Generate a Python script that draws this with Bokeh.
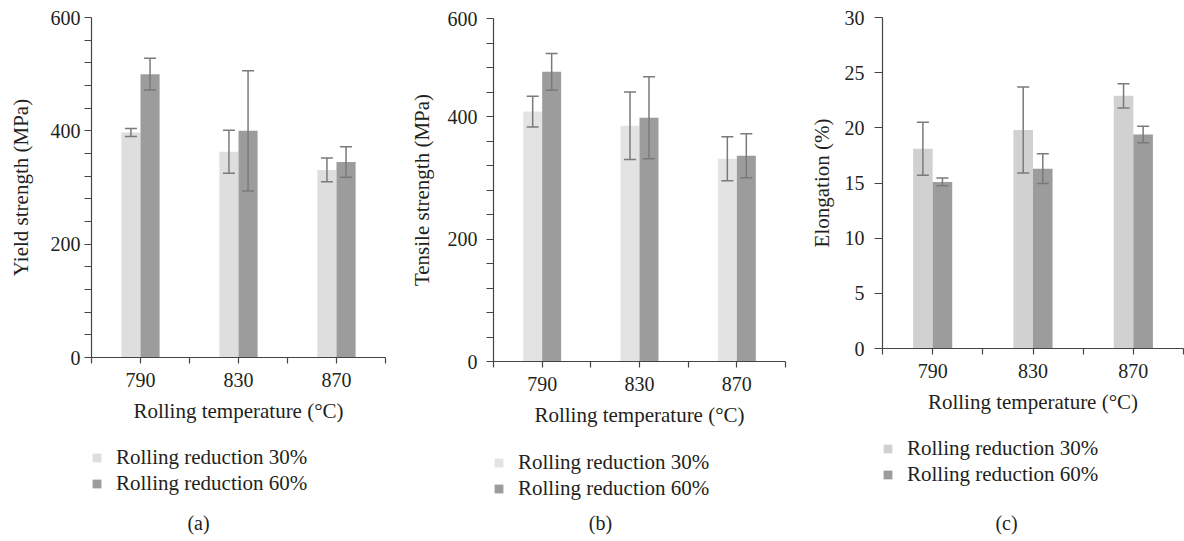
from bokeh.plotting import figure
from bokeh.layouts import row, column
from bokeh.models import (ColumnDataSource, Range1d, FixedTicker, Whisker,
                          TeeHead, Legend, LegendItem, Label, Spacer)
from bokeh.embed import file_html
from bokeh.resources import INLINE

# ---------------- data ----------------
categories = ["790", "830", "870"]
series_names = ["Rolling reduction 30%", "Rolling reduction 60%"]
x_title = "Rolling temperature (°C)"

yield_30 = [397, 363, 331]
yield_30_err = [7, 38, 21]
yield_60 = [500, 400, 345]
yield_60_err = [28, 106, 27]

tensile_30 = [408, 385, 331]
tensile_30_err = [25, 55, 36]
tensile_60 = [473, 398, 336]
tensile_60_err = [30, 67, 36]

elong_30 = [18.1, 19.8, 22.9]
elong_30_err = [2.4, 3.9, 1.1]
elong_60 = [15.1, 16.3, 19.4]
elong_60_err = [0.35, 1.35, 0.75]

yield_ticks = [0, 200, 400, 600]
yield_minor = [40, 80, 120, 160, 240, 280, 320, 360, 440, 480, 520, 560]
tensile_ticks = [0, 200, 400, 560]          # top tick is printed "600" in the source
tensile_tick_text = {560: "600"}
tensile_minor = [40, 80, 120, 160, 240, 280, 320, 360, 440, 480, 520]
elong_ticks = [0, 5, 10, 15, 20, 25, 30]

captions = ["(a)", "(b)", "(c)"]

FONT = "Liberation Serif"
TXT = "#231f20"
AX = "#444444"
DARK = "#9c9c9c"
ERR = "#7a7a7a"
NAN = float("nan")

TOP = 17
BOTTOM = 75
TOTAL_H = 541


def style_axis(ax):
    ax.axis_line_color = AX
    ax.axis_line_width = 1.2
    ax.major_tick_line_color = AX
    ax.major_tick_line_width = 1.2
    ax.minor_tick_line_color = AX
    ax.minor_tick_line_width = 1.2
    ax.major_label_text_font = FONT
    ax.major_label_text_font_size = "20px"
    ax.major_label_text_color = TXT
    ax.axis_label_text_font = FONT
    ax.axis_label_text_font_size = "21px"
    ax.axis_label_text_font_style = "normal"
    ax.axis_label_text_color = TXT


def panel(vals30, err30, vals60, err60, ymax, yticks, yminor, ylabel_over,
          ytitle, caption, light, width, shift, height, bl, br,
          ylab_stand, ytitle_stand, ytick_len, leg_row1, cap_x, cap_y):
    p = figure(width=width, height=height, x_range=Range1d(0, len(categories)),
               y_range=Range1d(0, ymax), output_backend="svg",
               toolbar_location=None, title=None,
               min_border_left=bl, min_border_right=br,
               min_border_top=TOP, min_border_bottom=BOTTOM)
    p.xgrid.visible = False
    p.ygrid.visible = False
    p.outline_line_color = None

    w = 0.195
    n = len(categories)
    x30 = [i + 0.5 - w / 2 for i in range(n)]
    x60 = [i + 0.5 + w / 2 for i in range(n)]

    p.vbar(x=x30, top=vals30, bottom=0, width=w, fill_color=light,
           line_color=None)
    p.vbar(x=x60, top=vals60, bottom=0, width=w, fill_color=DARK,
           line_color=None)

    for xs, vs, es in ((x30, vals30, err30), (x60, vals60, err60)):
        src = ColumnDataSource(dict(x=xs,
                                    upper=[v + e for v, e in zip(vs, es)],
                                    lower=[v - e for v, e in zip(vs, es)]))
        wh = Whisker(source=src, base="x", upper="upper", lower="lower",
                     line_color=ERR, line_width=1.5, level="annotation",
                     upper_head=TeeHead(size=12, line_color=ERR, line_width=1.5),
                     lower_head=TeeHead(size=12, line_color=ERR, line_width=1.5))
        p.add_layout(wh)

    # x axis: ticks at category boundaries and centres
    xt = [k * 0.5 for k in range(2 * n + 1)]
    over = {}
    for k, t in enumerate(xt):
        over[t] = categories[k // 2] if k % 2 == 1 else ""
    xa = p.xaxis[0]
    xa.ticker = FixedTicker(ticks=xt)
    xa.major_label_overrides = over
    xa.axis_label = x_title
    xa.axis_label_standoff = 9
    xa.major_label_standoff = 9
    xa.major_tick_out = 6
    xa.major_tick_in = 0
    xa.minor_tick_out = 0
    xa.minor_tick_in = 0

    ya = p.yaxis[0]
    ya.ticker = FixedTicker(ticks=yticks, minor_ticks=yminor)
    if ylabel_over:
        ya.major_label_overrides = ylabel_over
    ya.axis_label = ytitle
    ya.axis_label_standoff = ytitle_stand
    ya.major_label_standoff = ylab_stand
    ya.major_tick_out = ytick_len
    ya.major_tick_in = 0
    ya.minor_tick_out = ytick_len
    ya.minor_tick_in = 0
    style_axis(xa)
    style_axis(ya)

    # lower strip: legend + caption (its frame lines up with the plot frame)
    lh = TOTAL_H - shift - height
    q = figure(width=width, height=lh, x_range=Range1d(0, 1),
               y_range=Range1d(0, 1), output_backend="svg",
               toolbar_location=None, title=None,
               x_axis_location=None, y_axis_location=None,
               min_border_left=0, min_border_right=0,
               min_border_top=0, min_border_bottom=0)
    q.outline_line_color = None
    q.xgrid.visible = False
    q.ygrid.visible = False
    # legend proxies (no visible data)
    k30 = q.vbar(x=[NAN], top=[NAN], width=0.1, fill_color=light,
                 line_color=None)
    k60 = q.vbar(x=[NAN], top=[NAN], width=0.1, fill_color=DARK,
                 line_color=None)
    item_h = 26
    gap = 1
    leg_h = 2 * item_h + gap
    lg = Legend(items=[LegendItem(label=series_names[0], renderers=[k30]),
                       LegendItem(label=series_names[1], renderers=[k60])],
                location=(0, lh - (leg_row1 - item_h / 2 + leg_h)), margin=0,
                padding=0, glyph_width=11, glyph_height=11, label_height=20,
                label_standoff=14, spacing=gap, border_line_color=None,
                background_fill_alpha=0, label_text_font=FONT,
                label_text_font_size="21px", label_text_color=TXT)
    q.add_layout(lg)
    q.add_layout(Label(x=cap_x, y=lh - cap_y, x_units="screen",
                       y_units="screen", text=caption, text_font=FONT,
                       text_font_size="20px", text_color=TXT,
                       text_align="center", text_baseline="middle"))

    kids = []
    if shift:
        kids.append(Spacer(width=width, height=shift))
    kids += [p, q]
    return column(*kids)


# frame bottoms: (a) 357, (b) 361, (c) 348
ca = panel(yield_30, yield_30_err, yield_60, yield_60_err, 600, yield_ticks,
           yield_minor, None, "Yield strength (MPa)", captions[0], "#dedede",
           395, 0, 357 + BOTTOM, 91, 10, 4, 15, 7, 456 - 432, 107, 522 - 432)
cb = panel(tensile_30, tensile_30_err, tensile_60, tensile_60_err, 560,
           tensile_ticks, tensile_minor, tensile_tick_text,
           "Tensile strength (MPa)", captions[1], "#e3e3e3",
           395, 1, 360 + BOTTOM, 98, 5, 9, 11, 7, 461 - 436, 107, 522 - 436)
cc = panel(elong_30, elong_30_err, elong_60, elong_60_err, 30, elong_ticks,
           [], None, "Elongation (%)", captions[2], "#d1d1d1",
           394, 0, 348 + BOTTOM, 92, 1, 10, 8, 8, 447 - 423, 124, 522 - 423)

layout = row(ca, cb, cc)
open("out.html", "w").write(file_html(layout, INLINE))
